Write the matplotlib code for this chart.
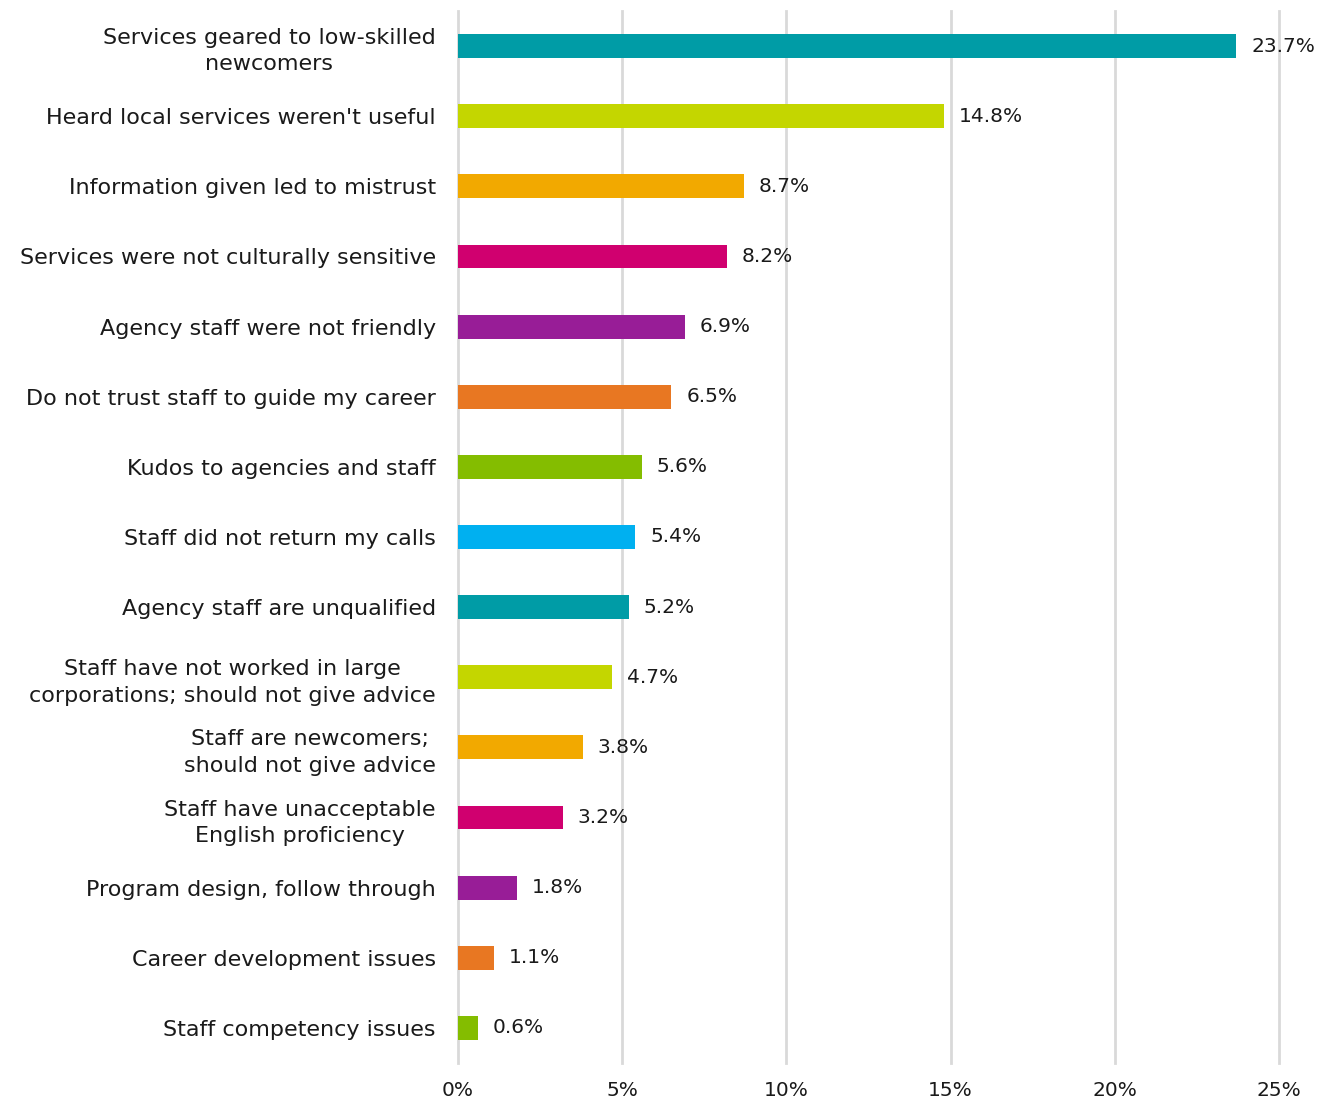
import matplotlib
matplotlib.use("Agg")
import matplotlib.pyplot as plt
from matplotlib.ticker import FuncFormatter

categories = [
    "Services geared to low-skilled\nnewcomers",
    "Heard local services weren't useful",
    "Information given led to mistrust",
    "Services were not culturally sensitive",
    "Agency staff were not friendly",
    "Do not trust staff to guide my career",
    "Kudos to agencies and staff",
    "Staff did not return my calls",
    "Agency staff are unqualified",
    "Staff have not worked in large\ncorporations; should not give advice",
    "Staff are newcomers;\nshould not give advice",
    "Staff have unacceptable\nEnglish proficiency",
    "Program design, follow through",
    "Career development issues",
    "Staff competency issues",
]
values = [23.7, 14.8, 8.7, 8.2, 6.9, 6.5, 5.6, 5.4, 5.2, 4.7, 3.8, 3.2, 1.8, 1.1, 0.6]
colors = ["#009CA6", "#C4D600", "#F2A900", "#D0006F", "#981D97", "#E87722",
          "#84BD00", "#00B0F0", "#009CA6", "#C4D600", "#F2A900", "#D0006F",
          "#981D97", "#E87722", "#84BD00"]

plt.rcParams['font.family'] = 'DejaVu Sans'

fig = plt.figure(figsize=(13.28, 11.03), dpi=100)
ax = fig.add_axes([0.3449, 0.0363, 0.6182, 0.9537])

pos = list(range(len(categories)))
ax.barh(pos, values, height=0.34, color=colors, zorder=3)

for p, v in zip(pos, values):
    ax.text(v + 0.45, p, f"{v}%", va="center", ha="left", fontsize=14.5, color="#1a1a1a", zorder=4)

ax.set_xlim(0, 25)
ax.set_ylim(len(categories) - 0.5, -0.5)
ax.set_xticks([0, 5, 10, 15, 20, 25])
ax.xaxis.set_major_formatter(FuncFormatter(lambda x, _: f"{x:.0f}%"))
ax.set_yticks(pos)
ax.set_yticklabels(categories, fontsize=16, color="#1a1a1a",
                   multialignment="center", linespacing=1.4)
ax.tick_params(axis="both", length=0, labelcolor="#1a1a1a")
ax.tick_params(axis="x", labelsize=14.5, pad=13)
ax.tick_params(axis="y", pad=16)
ax.grid(axis="x", color="#D9D9D9", linewidth=2, zorder=0)
for gl in ax.get_xgridlines():
    gl.set_clip_on(False)
for s in ax.spines.values():
    s.set_visible(False)

fig.savefig("out.png", dpi=100)
